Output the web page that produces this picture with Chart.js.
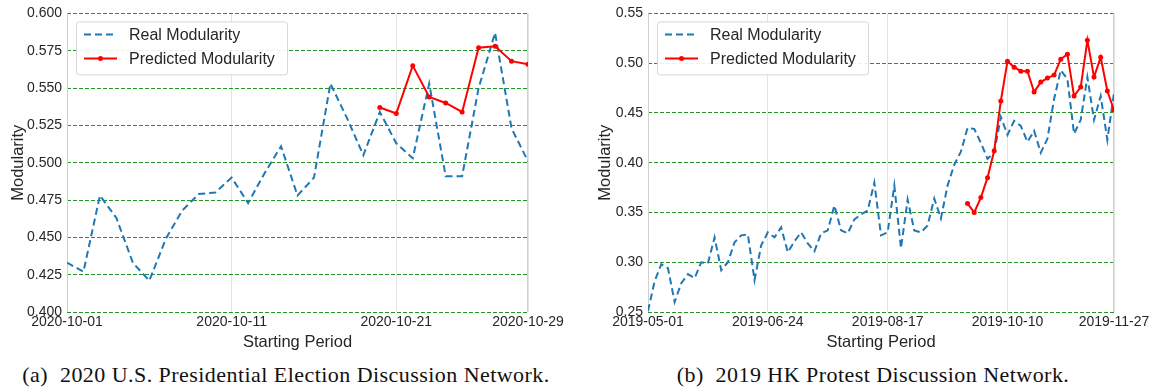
<!DOCTYPE html>
<html lang="en">
<head>
<meta charset="UTF-8" />
<script src="https://cdn.jsdelivr.net/npm/chart.js"></script>
<title>Modularity</title>
<style>
  body { margin: 0; width: 1156px; height: 392px; background: #fff; position: relative; overflow: hidden; }
  canvas { position: absolute; top: 0; }
  #graficoA { left: 0; }
  #graficoB { left: 578px; }
  .caption { position: absolute; top: 362px; font-family: "Liberation Serif", "DejaVu Serif", serif; font-size: 22px; letter-spacing: 0.45px; color: #111; white-space: pre; transform: translateX(-50%); }
</style>
</head>
<body>
  <canvas id="graficoA" width="578" height="352"></canvas>
  <canvas id="graficoB" width="578" height="352"></canvas>
  <div class="caption" style="left:286px">(a)  2020 U.S. Presidential Election Discussion Network.</div>
  <div class="caption" style="left:873px">(b)  2019 HK Protest Discussion Network.</div>
<script>
  // (a) 2020 US election, one point per day from 2020-10-01
  const realA = [0.433, 0.427, 0.478, 0.463, 0.433, 0.421, 0.449, 0.468, 0.479, 0.480,
                 0.490, 0.473, 0.493, 0.511, 0.478, 0.490, 0.553, 0.530, 0.505, 0.534,
                 0.513, 0.503, 0.553, 0.491, 0.491, 0.550, 0.587, 0.523, 0.501];
  const predA = [null, null, null, null, null, null, null, null, null, null,
                 null, null, null, null, null, null, null, null, null, 0.537,
                 0.533, 0.565, 0.544, 0.540, 0.534, 0.577, 0.578, 0.568, 0.566];
  const ticksDayA = [0, 10, 20, 28];
  const ticksLabelA = ['2020-10-01', '2020-10-11', '2020-10-21', '2020-10-29'];

  // (b) 2019 HK protest, one point every 3 days from 2019-05-01
  const realB = [0.251, 0.281, 0.298, 0.294, 0.260, 0.279, 0.288, 0.284, 0.300, 0.299,
                 0.325, 0.292, 0.300, 0.320, 0.327, 0.328, 0.282, 0.317, 0.330, 0.325,
                 0.335, 0.310, 0.321, 0.330, 0.319, 0.311, 0.329, 0.332, 0.357, 0.332,
                 0.329, 0.343, 0.348, 0.352, 0.380, 0.327, 0.330, 0.377, 0.314, 0.363,
                 0.332, 0.330, 0.337, 0.364, 0.344, 0.377, 0.398, 0.411, 0.435, 0.434,
                 0.420, 0.404, 0.410, 0.446, 0.428, 0.442, 0.437, 0.421, 0.432, 0.410,
                 0.424, 0.464, 0.493, 0.484, 0.429, 0.443, 0.486, 0.443, 0.467, 0.423,
                 0.470];
  const predB = [0.359, 0.350, 0.365, 0.385, 0.412, 0.462, 0.502, 0.496, 0.492, 0.492,
                 0.471, 0.481, 0.485, 0.488, 0.504, 0.509, 0.467, 0.476, 0.523, 0.486,
                 0.506, 0.472, 0.453];
  const predStartB = 48;
  const stepB = 3;
  const ticksDayB = [0, 54, 108, 162, 210];
  const ticksLabelB = ['2019-05-01', '2019-06-24', '2019-08-17', '2019-10-10', '2019-11-27'];

  const textColor = '#262626';
  const fontSans = '"Liberation Sans", Arial, sans-serif';

  // side spines + legend drawn inside the plot, top left
  const innerLegend = {
    id: 'innerLegend',
    beforeDatasetsDraw(chart) {
      const { ctx, chartArea } = chart;
      ctx.save();
      ctx.strokeStyle = '#d0d0d0';
      ctx.lineWidth = 1;
      ctx.beginPath();
      ctx.moveTo(chartArea.left + 0.5, chartArea.top);
      ctx.lineTo(chartArea.left + 0.5, chartArea.bottom);
      ctx.moveTo(chartArea.right - 0.5, chartArea.top);
      ctx.lineTo(chartArea.right - 0.5, chartArea.bottom);
      ctx.stroke();
      ctx.restore();
    },
    afterDraw(chart) {
      const { ctx, chartArea } = chart;
      const x = chartArea.left + 9, y = chartArea.top + 8, w = 211, h = 53;
      ctx.save();
      ctx.fillStyle = 'rgba(255,255,255,0.9)';
      ctx.strokeStyle = '#d6d6d6';
      ctx.lineWidth = 1;
      ctx.beginPath();
      ctx.roundRect(x + 0.5, y + 0.5, w, h, 3);
      ctx.fill();
      ctx.stroke();
      ctx.font = '16px ' + fontSans;
      ctx.textBaseline = 'middle';
      chart.data.datasets.forEach((ds, i) => {
        const cy = y + 13 + i * 24;
        ctx.strokeStyle = ds.borderColor;
        ctx.lineWidth = 2;
        ctx.setLineDash(ds.borderDash || []);
        ctx.beginPath();
        ctx.moveTo(x + 8, cy);
        ctx.lineTo(x + 41, cy);
        ctx.stroke();
        ctx.setLineDash([]);
        if (ds.pointRadius > 0) {
          ctx.fillStyle = ds.borderColor;
          ctx.beginPath();
          ctx.arc(x + 24.5, cy, 2.5, 0, Math.PI * 2);
          ctx.fill();
        }
        ctx.fillStyle = textColor;
        ctx.fillText(ds.label, x + 53, cy + 1);
      });
      ctx.restore();
    }
  };

  function makeChart(id, real, pred, xs, predXs, yMin, yMax, yStep, decimals, tickDays, tickLabels, pad) {
    const ctx = document.getElementById(id).getContext('2d');
    return new Chart(ctx, {
      type: 'line',
      data: {
        datasets: [
          {
            label: 'Real Modularity',
            data: real.map((v, i) => ({ x: xs[i], y: v })),
            borderColor: '#1f77b4',
            borderWidth: 2,
            borderDash: [7, 4],
            pointRadius: 0,
            tension: 0,
            fill: false,
            order: 2
          },
          {
            label: 'Predicted Modularity',
            data: pred.map((v, i) => ({ x: predXs[i], y: v })),
            borderColor: '#ff0000',
            backgroundColor: '#ff0000',
            borderWidth: 2,
            pointRadius: 2.5,
            pointBorderWidth: 0,
            tension: 0,
            fill: false,
            order: 1
          }
        ]
      },
      options: {
        responsive: false,
        animation: false,
        layout: { padding: { left: pad.left, top: pad.top, right: pad.right, bottom: 0 } },
        plugins: { legend: { display: false }, tooltip: { enabled: false } },
        scales: {
          x: {
            type: 'linear',
            min: tickDays[0],
            max: tickDays[tickDays.length - 1],
            afterBuildTicks: scale => { scale.ticks = tickDays.map(v => ({ value: v })); },
            afterFit: scale => { scale.height = 40; },
            ticks: {
              autoSkip: false,
              maxRotation: 0,
              padding: 2,
              color: textColor,
              font: { family: fontSans, size: 14 },
              callback: v => tickLabels[tickDays.indexOf(v)]
            },
            grid: { color: '#e3e3e3', lineWidth: 1, drawTicks: false },
            border: { display: false },
            title: { display: true, text: 'Starting Period', color: textColor, padding: 0, font: { family: fontSans, size: 16.5 } }
          },
          y: {
            min: yMin,
            max: yMax,
            afterFit: scale => { scale.width = pad.yWidth; },
            ticks: {
              stepSize: yStep,
              padding: 5,
              color: textColor,
              font: { family: fontSans, size: 14 },
              callback: v => v.toFixed(decimals)
            },
            grid: { color: 'rgba(0,128,0,0.85)', lineWidth: 1, drawTicks: false },
            border: { display: false, dash: [4, 2] },
            title: { display: true, text: 'Modularity', color: textColor, padding: 0, font: { family: fontSans, size: 16.5 } }
          }
        }
      },
      plugins: [innerLegend]
    });
  }

  const xsA = realA.map((v, i) => i);
  makeChart('graficoA', realA, predA, xsA, xsA, 0.4, 0.6, 0.025, 3, ticksDayA, ticksLabelA,
            { left: 9, top: 12, right: 50, yWidth: 58 });

  const xsB = realB.map((v, i) => i * stepB);
  const predXsB = predB.map((v, i) => (predStartB + i) * stepB);
  makeChart('graficoB', realB, predB, xsB, predXsB, 0.25, 0.55, 0.05, 2, ticksDayB, ticksLabelB,
            { left: 18, top: 7, right: 42, yWidth: 52 });
</script>
</body>
</html>
